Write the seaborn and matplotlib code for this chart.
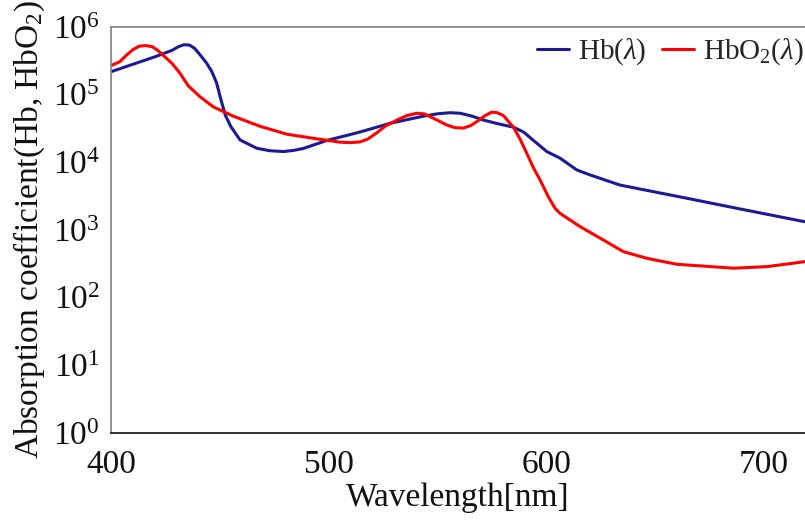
import numpy as np
import pandas as pd
import matplotlib
matplotlib.use("Agg")
import matplotlib.pyplot as plt
import seaborn as sns

# wavelength [nm] and absorption coefficient
hb_wl = [400, 410, 420, 428, 431, 433.5, 436, 438.5, 441, 444, 446.3, 448.5, 450.5,
         452.5, 455, 459.3, 467, 473, 479.2, 484, 488.4, 499.2, 514.5, 528.3, 543.6,
         550, 555.9, 560.5, 566, 571.2, 578, 585, 589.6, 595, 600.3, 606.4, 614.1,
         620.2, 634, 664.7, 687.6, 719]
hb_val = [2.18e5, 2.8e5, 3.6e5, 4.5e5, 5.1e5, 5.45e5, 5.4e5, 4.8e5, 3.85e5, 2.9e5,
          2.2e5, 1.5e5, 8.5e4, 5.0e4, 3.4e4, 2.14e4, 1.61e4, 1.48e4, 1.44e4, 1.5e4,
          1.6e4, 2.1e4, 2.8e4, 3.77e4, 4.8e4, 5.2e4, 5.4e4, 5.3e4, 4.8e4, 4.2e4,
          3.7e4, 3.3e4, 2.8e4, 2.0e4, 1.44e4, 1.15e4, 7.7e3, 6.5e3, 4.6e3, 2.94e3,
          2.09e3, 1.32e3]

hbo2_wl = [400, 404.1, 407, 410, 413, 416, 419, 421.5, 424, 428, 431.7, 435.5, 440.9,
           447, 456.2, 468.5, 480.8, 493, 505.3, 510, 514.5, 518, 522, 526, 531.4,
           536, 540.5, 544, 548, 554.3, 558, 562, 565.5, 568.1, 572, 575, 577.5,
           580.4, 583, 585, 588, 591.1, 594, 597.2, 601, 604.1, 606.4, 615.6, 626.3,
           635.5, 646.3, 660.1, 686.1, 701.5, 719]
hbo2_val = [2.68e5, 3.07e5, 3.8e5, 4.6e5, 5.2e5, 5.3e5, 5.1e5, 4.5e5, 3.8e5, 2.9e5,
            2.07e5, 1.35e5, 9.3e4, 6.6e4, 4.8e4, 3.4e4, 2.6e4, 2.26e4, 1.98e4, 1.95e4,
            2.0e4, 2.2e4, 2.7e4, 3.4e4, 4.2e4, 4.9e4, 5.3e4, 5.2e4, 4.5e4, 3.56e4,
            3.25e4, 3.2e4, 3.5e4, 3.98e4, 4.9e4, 5.5e4, 5.4e4, 4.9e4, 3.9e4, 3.3e4,
            2.2e4, 1.36e4, 8.5e3, 5.5e3, 3.1e3, 2.09e3, 1.76e3, 1.12e3, 711, 478, 381,
            311, 272, 287, 340]

labels = [r"Hb($\lambda$)", r"HbO$_2$($\lambda$)"]
colors = ["#1a1a99", "#ff0000"]

df = pd.concat([
    pd.DataFrame({"wl": hb_wl, "val": hb_val, "kind": labels[0]}),
    pd.DataFrame({"wl": hbo2_wl, "val": hbo2_val, "kind": labels[1]}),
])

sns.set_style("white")
plt.rcParams["font.family"] = ["Liberation Serif", "DejaVu Serif"]
plt.rcParams["mathtext.fontset"] = "custom"
plt.rcParams["mathtext.rm"] = "Liberation Serif"
plt.rcParams["mathtext.it"] = "Liberation Serif:italic"

fig = plt.figure(figsize=(8.05, 5.28), dpi=100)
ax = fig.add_axes([0.1379, 0.18, 0.8621, 0.769])

sns.lineplot(data=df, x="wl", y="val", hue="kind", palette=colors, linewidth=2.2,
             ax=ax, legend=True)
for ln in ax.get_lines():
    ln.set_solid_joinstyle("round")

ax.set_yscale("log")
ax.set_xlim(400, 719)
ax.set_ylim(1, 1e6)
ax.set_xticks([400, 500, 600, 700])
ax.set_xticklabels(["400", "500", "600", "700"])
yt = [1, 10, 100, 1e3, 1e4, 1e5, 1e6]
ax.set_yticks(yt)
ax.set_yticklabels([r"10$^{%d}$" % i for i in range(7)])
ax.yaxis.set_minor_locator(matplotlib.ticker.NullLocator())
ax.tick_params(axis="both", length=0, labelsize=24, colors="#111111")
ax.tick_params(axis="x", pad=12)
ax.tick_params(axis="y", pad=8)

ax.set_xlabel("Wavelength[nm]", fontsize=24, color="#111111", labelpad=2)
ax.set_ylabel(r"Absorption coefficient(Hb, HbO$_2$)", fontsize=24, color="#111111",
              labelpad=4)

for s in ["top", "left"]:
    ax.spines[s].set_color("#888888")
    ax.spines[s].set_linewidth(1.3)
ax.spines["bottom"].set_color("#222222")
ax.spines["bottom"].set_linewidth(1.3)
ax.spines["right"].set_visible(False)

ax.legend(loc="upper right", bbox_to_anchor=(1.0, 0.98), ncol=2, frameon=False,
          fontsize=21, title=None, handlelength=1.1, handletextpad=0.3,
          columnspacing=0.55, borderaxespad=0.0, borderpad=0.05)

fig.savefig("out.png", dpi=100)
